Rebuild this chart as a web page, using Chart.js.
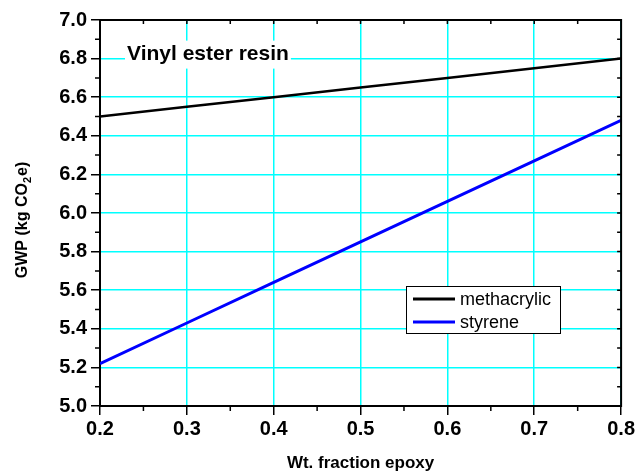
<!DOCTYPE html>
<html>
<head>
<meta charset="utf-8">
<script src="https://cdn.jsdelivr.net/npm/chart.js@4/dist/chart.umd.min.js"></script>
<style>
  html, body { margin: 0; padding: 0; background: #fff; }
  #wrap { width: 637px; height: 474px; }
</style>
</head>
<body>
<div id="wrap"><canvas id="gwp" width="637" height="474"></canvas></div>
<script>
// Weight fraction of epoxy in the blend
const epoxyFraction = [0.2, 0.3, 0.4, 0.5, 0.6, 0.7, 0.8];
// GWP (kg CO2e) for each reactive diluent
const methacrylic = [6.50, 6.55, 6.60, 6.65, 6.70, 6.75, 6.80];
const styrene     = [5.22, 5.43, 5.64, 5.85, 6.06, 6.27, 6.48];
const seriesNames = ['methacrylic', 'styrene'];
const plotLabel = 'Vinyl ester resin';

const FONT = '"Liberation Sans", Arial, Helvetica, sans-serif';
const GRID = '#00FFFF';

const toPoints = ys => epoxyFraction.map((x, i) => ({ x: x, y: ys[i] }));

// Frame, minor ticks, inner ticks on the top/right edges, annotation and legend
const decorations = {
  id: 'decorations',
  afterDatasetsDraw(chart) {
    const ctx = chart.ctx;
    const xs = chart.scales.x, ys = chart.scales.y;

    // Plot label with white backing
    ctx.save();
    ctx.font = 'bold 21px ' + FONT;
    const lx = xs.getPixelForValue(0.2) + 27;
    const ly = ys.getPixelForValue(6.8) + 1;
    const tw = ctx.measureText(plotLabel).width;
    ctx.fillStyle = '#fff';
    ctx.fillRect(lx - 2, ly - 19, tw + 4, 28);
    ctx.fillStyle = '#000';
    ctx.textBaseline = 'alphabetic';
    ctx.fillText(plotLabel, lx, ly);
    ctx.restore();

    // Legend box
    ctx.save();
    const bx = 406, by = 286, bw = 154, bh = 47;
    ctx.fillStyle = '#fff';
    ctx.fillRect(bx, by, bw, bh);
    ctx.strokeStyle = '#000';
    ctx.lineWidth = 1;
    ctx.strokeRect(bx + 0.5, by + 0.5, bw, bh);
    ctx.font = '18px ' + FONT;
    ctx.textBaseline = 'middle';
    chart.data.datasets.forEach((ds, i) => {
      const yy = by + 13 + i * 23;
      ctx.strokeStyle = ds.borderColor;
      ctx.lineWidth = 3;
      ctx.beginPath();
      ctx.moveTo(bx + 7, yy);
      ctx.lineTo(bx + 49, yy);
      ctx.stroke();
      ctx.fillStyle = '#000';
      ctx.fillText(ds.label, bx + 54, yy + 1);
    });
    ctx.restore();
  },
  afterDraw(chart) {
    const ctx = chart.ctx;
    const xs = chart.scales.x, ys = chart.scales.y;
    const a = chart.chartArea;
    ctx.save();
    ctx.strokeStyle = '#000';

    // Top and right frame
    ctx.lineWidth = 2;
    ctx.beginPath();
    ctx.moveTo(a.left - 1, a.top);
    ctx.lineTo(a.right, a.top);
    ctx.lineTo(a.right, a.bottom + 1);
    ctx.stroke();

    ctx.lineWidth = 1.5;
    ctx.beginPath();
    // x: minor ticks outside bottom, ticks inside top
    for (let k = 0; k <= 12; k++) {
      const v = 0.2 + k * 0.05;
      const p = xs.getPixelForValue(v);
      if (k % 2 === 1) {
        ctx.moveTo(p, a.bottom);
        ctx.lineTo(p, a.bottom + 5);
      }
      if (k > 0 && k < 12) {
        ctx.moveTo(p, a.top);
        ctx.lineTo(p, a.top + 4);
      }
    }
    // y: minor ticks outside left, ticks inside right
    for (let k = 0; k <= 20; k++) {
      const v = 5 + k * 0.1;
      const p = ys.getPixelForValue(v);
      if (k % 2 === 1) {
        ctx.moveTo(a.left, p);
        ctx.lineTo(a.left - 5, p);
      }
      if (k > 0 && k < 20) {
        ctx.moveTo(a.right, p);
        ctx.lineTo(a.right - 4, p);
      }
    }
    ctx.stroke();

    // Y axis title with subscript
    ctx.translate(23, (a.top + a.bottom) / 2 + 7);
    ctx.rotate(-Math.PI / 2);
    ctx.fillStyle = '#000';
    ctx.textBaseline = 'middle';
    const big = 'bold 16px ' + FONT, small = 'bold 11px ' + FONT;
    const parts = [['GWP (kg CO', big, 0, 0], ['2', small, 5, 1], ['e)', big, 0, 0]];
    let total = 0;
    parts.forEach(p => { ctx.font = p[1]; total += ctx.measureText(p[0]).width + p[3]; });
    let x = -total / 2;
    parts.forEach(p => {
      ctx.font = p[1];
      ctx.fillText(p[0], x, p[2]);
      x += ctx.measureText(p[0]).width + p[3];
    });
    ctx.restore();
  }
};

new Chart(document.getElementById('gwp'), {
  type: 'line',
  data: {
    datasets: [
      { label: seriesNames[0], data: toPoints(methacrylic), borderColor: '#000000',
        borderWidth: 2.5, pointRadius: 0, tension: 0, fill: false },
      { label: seriesNames[1], data: toPoints(styrene), borderColor: '#0000FF',
        borderWidth: 3, pointRadius: 0, tension: 0, fill: false }
    ]
  },
  options: {
    responsive: false,
    devicePixelRatio: 1,
    animation: false,
    layout: { padding: { left: 0, right: 15, top: 20, bottom: 0 } },
    plugins: { legend: { display: false }, tooltip: { enabled: false } },
    scales: {
      x: {
        type: 'linear', min: 0.2, max: 0.8,
        ticks: { stepSize: 0.1, autoSkip: false, maxRotation: 0, padding: 2, color: '#000',
                 font: { family: FONT, size: 20, weight: 'bold' },
                 callback: v => Number(v).toFixed(1) },
        grid: { color: GRID, lineWidth: 1.5, tickColor: '#000', tickLength: 9, tickWidth: 1.5 },
        border: { color: '#000', width: 2 },
        title: { display: true, text: 'Wt. fraction epoxy', color: '#000',
                 font: { family: FONT, size: 17, weight: 'bold' }, padding: { top: 0, bottom: 0 } },
        afterFit: s => { s.height = 68; }
      },
      y: {
        type: 'linear', min: 5, max: 7,
        ticks: { stepSize: 0.2, autoSkip: false, padding: 4, color: '#000',
                 font: { family: FONT, size: 20, weight: 'bold' },
                 callback: v => Number(v).toFixed(1) },
        grid: { color: GRID, lineWidth: 1.5, tickColor: '#000', tickLength: 9, tickWidth: 1.5 },
        border: { color: '#000', width: 2 },
        afterFit: s => { s.width = 100; }
      }
    }
  },
  plugins: [decorations]
});
</script>
</body>
</html>
